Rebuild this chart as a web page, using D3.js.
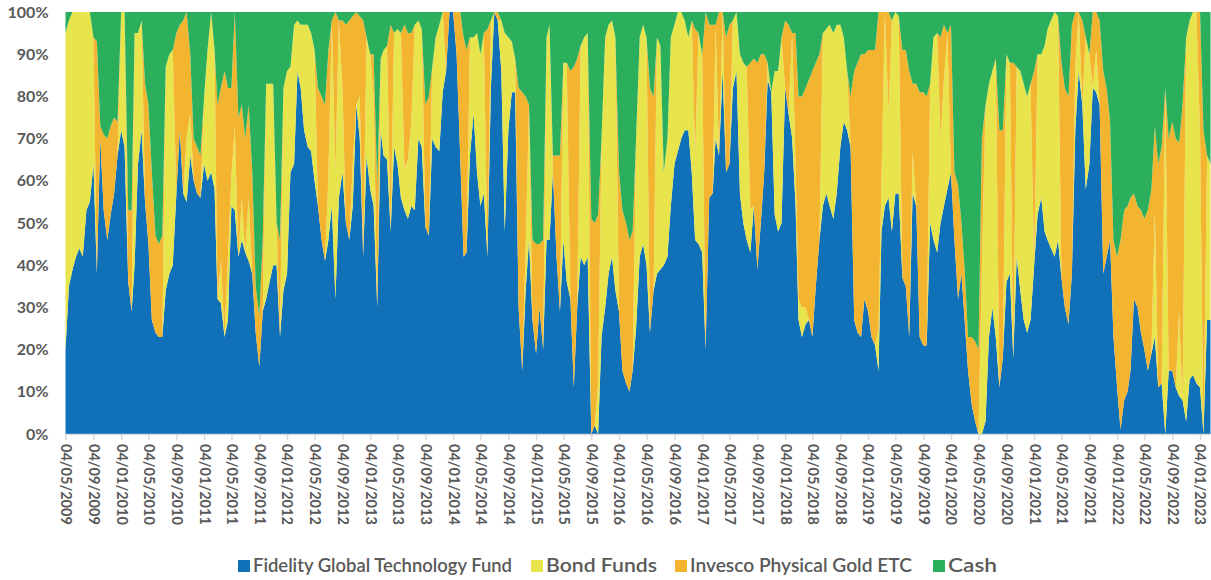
<!DOCTYPE html>
<html><head><meta charset="utf-8">
<script src="https://cdn.jsdelivr.net/npm/d3@7"></script>
<style>body{margin:0;background:#fff}svg{display:block}</style>
</head><body><svg id="chart" width="1211" height="580"></svg>
<script>
// Semi-monthly observation dates (4th and 19th of each month)
const dates = [
"2009-05-04","2009-05-19","2009-06-04","2009-06-19","2009-07-04","2009-07-19","2009-08-04","2009-08-19","2009-09-04","2009-09-19","2009-10-04","2009-10-19","2009-11-04","2009-11-19","2009-12-04","2009-12-19",
"2010-01-04","2010-01-19","2010-02-04","2010-02-19","2010-03-04","2010-03-19","2010-04-04","2010-04-19","2010-05-04","2010-05-19","2010-06-04","2010-06-19","2010-07-04","2010-07-19","2010-08-04","2010-08-19","2010-09-04","2010-09-19","2010-10-04","2010-10-19","2010-11-04","2010-11-19","2010-12-04","2010-12-19",
"2011-01-04","2011-01-19","2011-02-04","2011-02-19","2011-03-04","2011-03-19","2011-04-04","2011-04-19","2011-05-04","2011-05-19","2011-06-04","2011-06-19","2011-07-04","2011-07-19","2011-08-04","2011-08-19","2011-09-04","2011-09-19","2011-10-04","2011-10-19","2011-11-04","2011-11-19","2011-12-04","2011-12-19",
"2012-01-04","2012-01-19","2012-02-04","2012-02-19","2012-03-04","2012-03-19","2012-04-04","2012-04-19","2012-05-04","2012-05-19","2012-06-04","2012-06-19","2012-07-04","2012-07-19","2012-08-04","2012-08-19","2012-09-04","2012-09-19","2012-10-04","2012-10-19","2012-11-04","2012-11-19","2012-12-04","2012-12-19",
"2013-01-04","2013-01-19","2013-02-04","2013-02-19","2013-03-04","2013-03-19","2013-04-04","2013-04-19","2013-05-04","2013-05-19","2013-06-04","2013-06-19","2013-07-04","2013-07-19","2013-08-04","2013-08-19","2013-09-04","2013-09-19","2013-10-04","2013-10-19","2013-11-04","2013-11-19","2013-12-04","2013-12-19",
"2014-01-04","2014-01-19","2014-02-04","2014-02-19","2014-03-04","2014-03-19","2014-04-04","2014-04-19","2014-05-04","2014-05-19","2014-06-04","2014-06-19","2014-07-04","2014-07-19","2014-08-04","2014-08-19","2014-09-04","2014-09-19","2014-10-04","2014-10-19","2014-11-04","2014-11-19","2014-12-04","2014-12-19",
"2015-01-04","2015-01-19","2015-02-04","2015-02-19","2015-03-04","2015-03-19","2015-04-04","2015-04-19","2015-05-04","2015-05-19","2015-06-04","2015-06-19","2015-07-04","2015-07-19","2015-08-04","2015-08-19","2015-09-04","2015-09-19","2015-10-04","2015-10-19","2015-11-04","2015-11-19","2015-12-04","2015-12-19",
"2016-01-04","2016-01-19","2016-02-04","2016-02-19","2016-03-04","2016-03-19","2016-04-04","2016-04-19","2016-05-04","2016-05-19","2016-06-04","2016-06-19","2016-07-04","2016-07-19","2016-08-04","2016-08-19","2016-09-04","2016-09-19","2016-10-04","2016-10-19","2016-11-04","2016-11-19","2016-12-04","2016-12-19",
"2017-01-04","2017-01-19","2017-02-04","2017-02-19","2017-03-04","2017-03-19","2017-04-04","2017-04-19","2017-05-04","2017-05-19","2017-06-04","2017-06-19","2017-07-04","2017-07-19","2017-08-04","2017-08-19","2017-09-04","2017-09-19","2017-10-04","2017-10-19","2017-11-04","2017-11-19","2017-12-04","2017-12-19",
"2018-01-04","2018-01-19","2018-02-04","2018-02-19","2018-03-04","2018-03-19","2018-04-04","2018-04-19","2018-05-04","2018-05-19","2018-06-04","2018-06-19","2018-07-04","2018-07-19","2018-08-04","2018-08-19","2018-09-04","2018-09-19","2018-10-04","2018-10-19","2018-11-04","2018-11-19","2018-12-04","2018-12-19",
"2019-01-04","2019-01-19","2019-02-04","2019-02-19","2019-03-04","2019-03-19","2019-04-04","2019-04-19","2019-05-04","2019-05-19","2019-06-04","2019-06-19","2019-07-04","2019-07-19","2019-08-04","2019-08-19","2019-09-04","2019-09-19","2019-10-04","2019-10-19","2019-11-04","2019-11-19","2019-12-04","2019-12-19",
"2020-01-04","2020-01-19","2020-02-04","2020-02-19","2020-03-04","2020-03-19","2020-04-04","2020-04-19","2020-05-04","2020-05-19","2020-06-04","2020-06-19","2020-07-04","2020-07-19","2020-08-04","2020-08-19","2020-09-04","2020-09-19","2020-10-04","2020-10-19","2020-11-04","2020-11-19","2020-12-04","2020-12-19",
"2021-01-04","2021-01-19","2021-02-04","2021-02-19","2021-03-04","2021-03-19","2021-04-04","2021-04-19","2021-05-04","2021-05-19","2021-06-04","2021-06-19","2021-07-04","2021-07-19","2021-08-04","2021-08-19","2021-09-04","2021-09-19","2021-10-04","2021-10-19","2021-11-04","2021-11-19","2021-12-04","2021-12-19",
"2022-01-04","2022-01-19","2022-02-04","2022-02-19","2022-03-04","2022-03-19","2022-04-04","2022-04-19","2022-05-04","2022-05-19","2022-06-04","2022-06-19","2022-07-04","2022-07-19","2022-08-04","2022-08-19","2022-09-04","2022-09-19","2022-10-04","2022-10-19","2022-11-04","2022-11-19","2022-12-04","2022-12-19",
"2023-01-04","2023-01-19","2023-02-04","2023-02-19"
];

// Allocation (%) per series
const fidelity = [
20,35,39,42,44,42,53,55,64,38,70,53,46,52,57,66,
72,68,36,29,40,64,72,55,45,27,24,23,23,34,38,40,57,72,57,55,66,60,57,56,
64,60,62,58,32,31,23,27,54,53,42,46,43,41,38,24,16,29,32,36,40,40,23,34,
38,62,64,86,82,72,68,67,60,54,46,41,46,54,32,56,62,50,46,54,78,70,42,66,
58,54,30,72,66,65,48,68,64,56,53,51,54,53,70,68,49,47,70,68,67,81,86,100,
100,90,66,42,43,66,76,62,54,57,42,82,100,98,86,48,72,81,81,30,15,34,46,27,
19,30,20,46,46,62,42,29,46,36,32,11,30,42,40,42,0,2,0,23,30,38,42,34,
29,15,12,10,15,25,42,45,40,24,34,38,39,40,42,54,64,67,70,72,72,62,46,45,
43,20,56,57,70,66,86,62,64,82,86,57,50,46,43,54,39,50,62,84,81,52,48,50,
82,76,70,54,27,23,26,27,23,35,46,54,57,54,51,57,68,74,72,68,27,24,23,32,
29,23,21,15,48,54,56,48,57,57,37,35,23,57,54,23,21,21,50,46,43,50,54,58,
62,46,32,38,27,15,7,3,0,0,3,23,30,23,11,18,36,38,18,42,34,27,24,27,
40,52,56,48,46,44,42,46,37,30,26,38,72,86,78,58,64,82,81,78,38,42,46,23,
11,1,8,10,15,32,30,24,20,15,19,23,11,12,0,15,15,11,9,8,3,13,14,12,
11,0,27,27
];
const bonds = [
75,63,61,58,56,58,47,45,30,0,0,0,0,0,0,0,
28,32,0,0,55,31,26,0,0,0,0,0,0,53,52,51,0,0,0,15,10,0,0,0,
16,31,38,33,0,10,0,15,7,20,0,10,0,15,0,0,0,0,51,47,43,10,0,48,
48,25,33,12,15,25,29,28,31,0,0,0,15,44,30,42,20,0,0,10,0,10,0,28,
32,26,0,17,25,27,0,27,32,39,10,14,20,44,28,28,0,0,17,26,30,19,0,0,
0,0,0,0,0,28,18,33,36,38,0,16,0,0,12,47,22,12,8,0,0,10,32,0,
0,0,0,48,51,0,0,0,42,52,0,0,0,50,54,53,0,0,12,47,64,59,56,60,
0,0,0,0,0,45,52,52,54,0,0,56,53,22,28,40,33,33,30,26,22,36,20,50,
47,0,0,0,27,0,14,0,0,16,14,33,38,41,10,0,0,0,0,4,0,34,38,44,
0,0,25,10,5,7,4,0,0,0,0,41,39,43,44,40,29,20,14,0,0,0,0,0,
0,0,0,10,12,46,20,50,43,42,0,0,0,10,0,0,0,0,33,48,52,20,30,37,
0,0,0,0,0,0,0,0,0,40,75,60,56,66,0,0,54,50,0,45,52,56,56,56,
0,38,34,44,50,54,58,53,0,0,0,0,15,14,0,36,26,0,10,0,0,0,0,0,
0,0,0,0,0,0,0,0,0,0,0,30,0,0,82,0,0,0,20,0,91,85,86,88,
60,0,39,37
];
const gold = [
0,0,0,0,0,0,0,0,0,55,3,18,24,21,18,8,
0,0,17,24,0,0,0,28,33,35,23,22,24,0,0,0,38,25,41,30,14,10,11,10,
0,0,0,0,46,41,63,40,21,27,33,22,27,22,24,11,12,17,0,0,0,0,23,0,
0,0,0,0,0,0,0,0,0,28,34,37,30,0,38,0,16,47,52,35,22,19,56,0,
0,10,29,0,0,0,49,0,0,0,34,30,21,0,0,0,29,33,0,0,0,0,14,0,
0,10,34,52,48,0,0,0,0,0,54,0,0,2,0,0,0,0,0,52,66,36,0,19,
26,15,26,0,0,4,24,37,0,0,54,76,59,0,0,0,51,48,40,0,0,0,0,0,
33,38,38,36,33,0,0,0,0,58,46,0,0,0,0,0,0,0,0,0,0,0,30,0,
0,80,41,40,0,34,0,32,33,0,0,0,0,0,35,35,49,40,28,0,0,0,0,0,
16,21,0,31,48,50,52,57,63,53,44,0,0,0,0,0,0,0,0,12,59,64,67,58,
62,68,70,75,40,0,24,0,0,0,54,56,63,16,29,58,60,59,0,0,0,24,13,0,
35,16,27,12,12,8,16,19,20,30,0,0,0,0,61,54,0,0,70,0,0,0,0,0,
46,0,0,0,0,0,0,0,51,52,54,59,13,0,20,0,0,18,9,20,48,40,28,23,
31,45,45,44,41,25,24,29,31,38,39,20,53,56,0,55,59,59,40,70,0,0,0,0,
29,72,0,0
];
const cash = [
5,2,0,0,0,0,0,0,6,7,27,29,30,27,25,26,
0,0,47,47,5,5,2,17,22,38,53,55,53,13,10,9,5,3,2,0,10,30,32,34,
20,9,0,9,22,18,14,18,18,0,25,22,30,22,38,65,72,54,17,17,17,50,54,18,
14,13,3,2,3,3,3,5,9,18,20,22,9,2,0,2,2,3,2,1,0,1,2,6,
10,10,41,11,9,8,3,5,4,5,3,5,5,3,2,4,22,20,13,6,3,0,0,0,
0,0,0,6,9,6,6,5,10,5,4,2,0,0,2,5,6,7,11,18,19,20,22,54,
55,55,54,6,3,34,34,34,12,12,14,13,11,8,6,5,49,50,48,30,6,3,2,6,
38,47,50,54,52,30,6,3,6,18,20,6,8,38,30,6,3,0,0,2,6,2,4,5,
10,0,3,3,3,0,0,6,3,2,0,10,12,13,12,11,12,10,10,12,19,14,14,6,
2,3,5,5,20,20,18,16,14,12,10,5,4,3,5,3,3,6,14,20,14,12,10,10,
9,9,9,0,0,0,0,2,0,1,9,9,14,17,17,19,19,20,17,6,5,6,3,5,
3,38,41,50,61,77,77,78,80,30,22,17,14,11,28,28,10,12,12,13,14,17,20,17,
14,10,10,8,4,2,0,1,12,18,20,3,0,0,2,6,10,0,0,2,14,18,26,54,
58,54,47,46,44,43,46,47,49,47,42,27,36,32,18,30,26,30,31,22,6,2,0,0,
0,28,34,36
];

const seriesNames = ["Fidelity Global Technology Fund","Bond Funds","Invesco Physical Gold ETC","Cash"];
const seriesColors = ["#1070B8","#E7E44C","#F3B530","#2BAF5C"];
const xTickLabels = ["04/05/2009","04/09/2009","04/01/2010","04/05/2010","04/09/2010","04/01/2011","04/05/2011","04/09/2011","04/01/2012","04/05/2012","04/09/2012","04/01/2013","04/05/2013","04/09/2013","04/01/2014","04/05/2014","04/09/2014","04/01/2015","04/05/2015","04/09/2015","04/01/2016","04/05/2016","04/09/2016","04/01/2017","04/05/2017","04/09/2017","04/01/2018","04/05/2018","04/09/2018","04/01/2019","04/05/2019","04/09/2019","04/01/2020","04/05/2020","04/09/2020","04/01/2021","04/05/2021","04/09/2021","04/01/2022","04/05/2022","04/09/2022","04/01/2023"];
const yTickValues = [0,0.1,0.2,0.3,0.4,0.5,0.6,0.7,0.8,0.9,1];

const parseISO = d3.timeParse("%Y-%m-%d");
const parseTick = d3.timeParse("%d/%m/%Y");
const keys = ["fidelity","bonds","gold","cash"];
const table = dates.map((d,i)=>({date:parseISO(d), fidelity:fidelity[i], bonds:bonds[i], gold:gold[i], cash:cash[i]}));

const svg = d3.select("#chart");
const mLeft = 65.5, mRight = 1210.5, mTop = 12, mBottom = 434;

const x = d3.scaleTime().domain(d3.extent(table, d=>d.date)).range([mLeft, mRight]);
const y = d3.scaleLinear().domain([0,1]).range([mBottom, mTop]);

const stack = d3.stack().keys(keys).offset(d3.stackOffsetExpand);
const layers = stack(table);
const area = d3.area().x(d=>x(d.data.date)).y0(d=>y(d[0])).y1(d=>y(d[1]));

svg.append("g").selectAll("path").data(layers).join("path")
  .attr("d", area).attr("fill",(d,i)=>seriesColors[i]).attr("stroke","none");

// y axis labels
const yAxis = d3.axisLeft(y).tickValues(yTickValues).tickFormat(d3.format(".0%")).tickSize(0).tickPadding(0);
const yg = svg.append("g").attr("transform",`translate(${mLeft-17},0)`).call(yAxis);
yg.select(".domain").remove();
yg.selectAll("text").attr("fill","#595959").attr("font-family","Lato, 'Open Sans', sans-serif")
  .attr("font-size","16px").attr("font-weight","700");

// x axis
const xAxis = d3.axisBottom(x).tickValues(xTickLabels.map(parseTick)).tickSize(6).tickFormat(d3.timeFormat("%d/%m/%Y"));
const xg = svg.append("g").attr("transform",`translate(0,${mBottom})`).call(xAxis);
xg.select(".domain").attr("stroke","#D9D9D9").attr("stroke-width",1.5).attr("d",`M${mLeft},0.5H${mRight}`);
xg.selectAll(".tick line").attr("stroke","#D9D9D9").attr("stroke-width",1.5);
xg.selectAll(".tick text").attr("fill","#595959").attr("font-family","Lato, 'Open Sans', sans-serif")
  .attr("font-size","14.5px").attr("font-weight","700")
  .attr("text-anchor","start").attr("transform","rotate(90)")
  .attr("x",10).attr("y",0).attr("dy","0.35em");

// legend
const legendX = [238, 531, 675, 933];
const lg = svg.append("g").attr("transform","translate(0,572)");
const items = lg.selectAll("g").data(seriesNames).join("g")
  .attr("transform",(d,i)=>`translate(${legendX[i]},0)`);
items.append("rect").attr("width",12).attr("height",12).attr("y",-12).attr("fill",(d,i)=>seriesColors[i]);
items.append("text").text(d=>d).attr("x",15).attr("y",0).attr("fill","#595959")
  .attr("font-family","Lato, 'Open Sans', sans-serif").attr("font-size","19px").attr("font-weight","600");
// fit each label to the space it takes in the original legend
const legendW = [259, 111, 222, 49];
items.select("text").attr("textLength",(d,i)=>legendW[i]).attr("lengthAdjust","spacingAndGlyphs");
</script>
</body></html>
